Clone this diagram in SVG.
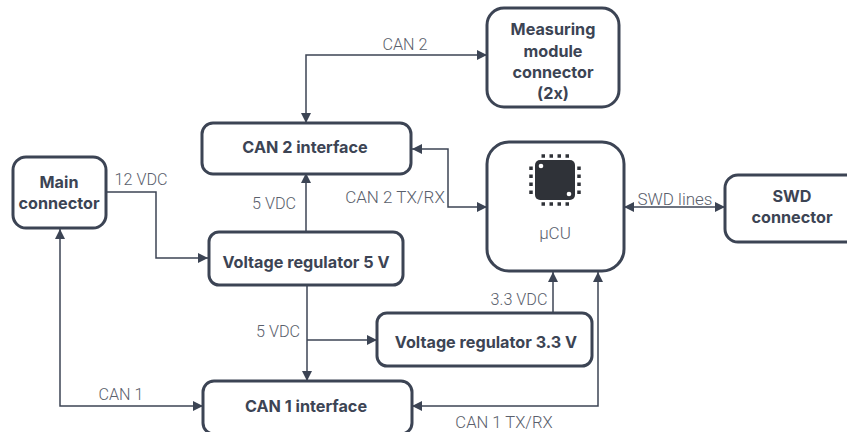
<svg xmlns="http://www.w3.org/2000/svg" width="847" height="432" viewBox="0 0 847 432">
<defs>
<marker id="a" viewBox="0 0 10 10" refX="10" refY="5" markerWidth="10" markerHeight="10" markerUnits="userSpaceOnUse" orient="auto-start-reverse"><path d="M0 0L10 5L0 10z" fill="#3c4454"/></marker>
</defs>
<style>
.n{fill:#fff;stroke:#3c4454;stroke-width:3}
.c{fill:none;stroke:#3c4454;stroke-width:1.5;marker-end:url(#a)}
.d{marker-start:url(#a)}
text{font-family:"Inter","Liberation Sans",sans-serif;text-anchor:middle}
.b{font-size:16.2px;font-weight:700;fill:#3c4454}
.l{font-size:16.2px;font-weight:300;fill:#5a606c;font-family:"Roboto","Liberation Sans",sans-serif}
</style>
<rect width="847" height="432" fill="#fff"/>
<g id="connectors">
<path class="c d" d="M487 55H306V123"/>
<path class="c" d="M106 192H156V258H208"/>
<path class="c" d="M306 232V173"/>
<path class="c" d="M307 285V381"/>
<path class="c" d="M307 340H377"/>
<path class="c d" d="M60 229V406H203"/>
<path class="c d" d="M412 149H448V207H487"/>
<path class="c d" d="M624 207H725"/>
<path class="c" d="M553 313V272"/>
<path class="c d" d="M412 406H598V272"/>
</g>
<g id="measuring"><rect class="n" x="487" y="8" width="132" height="99" rx="17"/>
<text class="b" x="553" y="35">Measuring</text><text class="b" x="553" y="57">module</text><text class="b" x="553" y="78">connector</text><text class="b" x="553" y="99">(2x)</text></g>
<g id="can2"><rect class="n" x="202" y="123" width="209" height="51" rx="11"/><text class="b" x="305" y="153">CAN 2 interface</text></g>
<g id="mcu"><rect class="n" x="487" y="142" width="137" height="129" rx="22"/>
<rect x="535" y="160" width="40" height="40" rx="5" fill="#2f3238"/>
<circle cx="541" cy="166" r="2.3" fill="#fff"/><circle cx="569" cy="194" r="2.3" fill="#fff"/>
<path d="M541.500 156h3.500M549.500 156h3.500M557.500 156h3.500M565.500 156h3.500M541.500 204h3.500M549.500 204h3.500M557.500 204h3.500M565.500 204h3.500M531 166.500v3.500M531 174.500v3.500M531 182.500v3.500M531 190.500v3.500M579 166.500v3.500M579 174.500v3.500M579 182.500v3.500M579 190.500v3.500" stroke="#2f3238" stroke-width="3.500" fill="none"/>
<text class="l" x="555" y="239" style="font-size:17px">µCU</text></g>
<g id="main"><rect class="n" x="13" y="157" width="93" height="71" rx="13"/>
<text class="b" x="59" y="188">Main</text><text class="b" x="59" y="209">connector</text></g>
<g id="swd"><rect class="n" x="725" y="175" width="134" height="67" rx="13"/>
<text class="b" x="792" y="202">SWD</text><text class="b" x="792" y="223">connector</text></g>
<g id="vr5"><rect class="n" x="209" y="232" width="194" height="53" rx="10"/><text class="b" x="306" y="268">Voltage regulator 5 V</text></g>
<g id="vr33"><rect class="n" x="377" y="313" width="215" height="53" rx="10"/><text class="b" x="486" y="348">Voltage regulator 3.3 V</text></g>
<g id="can1"><rect class="n" x="203" y="381" width="209" height="53" rx="11"/><text class="b" x="306" y="412">CAN 1 interface</text></g>
<g id="labels">
<text class="l" x="405" y="50">CAN 2</text>
<text class="l" x="141" y="185">12 VDC</text>
<text class="l" x="274" y="209">5 VDC</text>
<text class="l" x="395" y="203" style="font-size:17px">CAN 2 TX/RX</text>
<text class="l" x="675" y="205" style="font-size:17px">SWD lines</text>
<text class="l" x="278" y="337">5 VDC</text>
<text class="l" x="519" y="305">3.3 VDC</text>
<text class="l" x="121" y="400">CAN 1</text>
<text class="l" x="504" y="428" style="font-size:16.600px">CAN 1 TX/RX</text>
</g>
</svg>
